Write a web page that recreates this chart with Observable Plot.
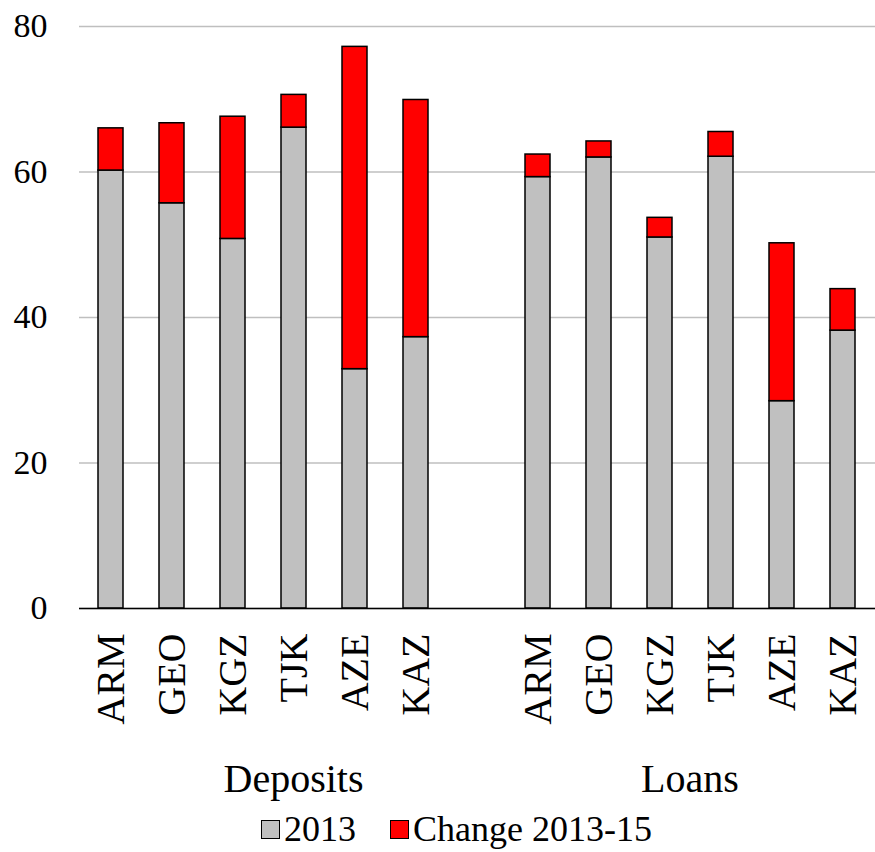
<!DOCTYPE html>
<html><head><meta charset="utf-8">
<script src="https://cdn.jsdelivr.net/npm/d3@7"></script>
<script src="https://cdn.jsdelivr.net/npm/@observablehq/plot@0.6"></script>
<style>
body{margin:0;background:#fff;font-family:'Liberation Serif',serif;}
svg, svg text{font-family:'Liberation Serif',serif !important;}
#legend{display:flex;justify-content:center;align-items:center;height:46px;padding-left:38px;font-size:36px;color:#000;line-height:1;font-family:'Liberation Serif',serif}
.sw{width:17px;height:17px;border:1px solid #000;margin-right:4px;display:inline-block}
.item{display:flex;align-items:center;margin:0 17px}
</style></head><body>
<div id="chart"></div>
<div id="legend"></div>
<script>
const countries = ["ARM","GEO","KGZ","TJK","AZE","KAZ"];
const groups = ["Deposits","Loans"];
const deposits2013 = [60.2, 55.7, 50.8, 66.1, 32.9, 37.3];
const depositsChange = [5.8, 11.0, 16.8, 4.5, 44.3, 32.6];
const loans2013 = [59.3, 62.0, 51.0, 62.1, 28.5, 38.2];
const loansChange = [3.1, 2.2, 2.7, 3.4, 21.7, 5.7];
const yTicks = [0, 20, 40, 60, 80];
const seriesNames = ["2013", "Change 2013-15"];
const seriesColors = ["#c0c0c0", "#ff0000"];

const gapKey = "gap";
const depKeys = countries.map(c => "Deposits|" + c);
const loanKeys = countries.map(c => "Loans|" + c);
const keys = [...depKeys, gapKey, ...loanKeys];

const rows = [];
countries.forEach((c, i) => {
  rows.push({key: depKeys[i], series: seriesNames[0], value: deposits2013[i]});
  rows.push({key: depKeys[i], series: seriesNames[1], value: depositsChange[i]});
});
countries.forEach((c, i) => {
  rows.push({key: loanKeys[i], series: seriesNames[0], value: loans2013[i]});
  rows.push({key: loanKeys[i], series: seriesNames[1], value: loansChange[i]});
});

const FONT = "'Liberation Serif', serif";
const H = 806, MB = 198;
const plot = Plot.plot({
  width: 875, height: H, marginLeft: 79, marginRight: 0, marginTop: 26, marginBottom: MB,
  style: {fontFamily: FONT, fontSize: "34px", color: "#000", background: "#fff", overflow: "visible"},
  x: {domain: keys, paddingInner: 0.59, paddingOuter: 0.295, label: null, axis: null},
  y: {domain: [0, 80], ticks: yTicks, label: null, axis: null},
  color: {domain: seriesNames, range: seriesColors},
  marks: [
    Plot.gridY(yTicks, {stroke: "#bfbfbf", strokeOpacity: 1, strokeWidth: 1.5}),
    Plot.barY(rows, {x: "key", y: "value", fill: "series", stroke: "#000", strokeWidth: 1.5}),
    Plot.ruleY([0], {stroke: "#000", strokeWidth: 1.5}),
    Plot.axisY({ticks: yTicks, tickSize: 0, tickPadding: 32, fontSize: 34, fontFamily: FONT, label: null, fill: "#000"}),
    Plot.axisX(keys.filter(k => k !== gapKey), {tickSize: 0, tickPadding: 25, tickRotate: -90, fontSize: 40, fontFamily: FONT, fill: "#000",
      tickFormat: k => k.split("|")[1], label: null})
  ]
});
document.getElementById("chart").appendChild(plot);

const xs = plot.scale("x");
const center = ks => d3.mean(ks, k => xs.apply(k) + xs.bandwidth / 2);
const groupCenters = [center([...depKeys, gapKey]), center(loanKeys)];
const svg = d3.select(plot);
groups.forEach((g, i) => {
  svg.append("text")
    .attr("x", groupCenters[i])
    .attr("y", H - MB + 184)
    .attr("text-anchor", "middle")
    .attr("fill", "#000")
    .style("font-size", "40px")
    .style("font-family", FONT)
    .text(g);
});

const legend = d3.select("#legend");
seriesNames.forEach((s, i) => {
  const it = legend.append("div").attr("class", "item");
  it.append("span").attr("class", "sw").style("background", seriesColors[i]);
  it.append("span").text(s);
});
</script>
</body></html>
